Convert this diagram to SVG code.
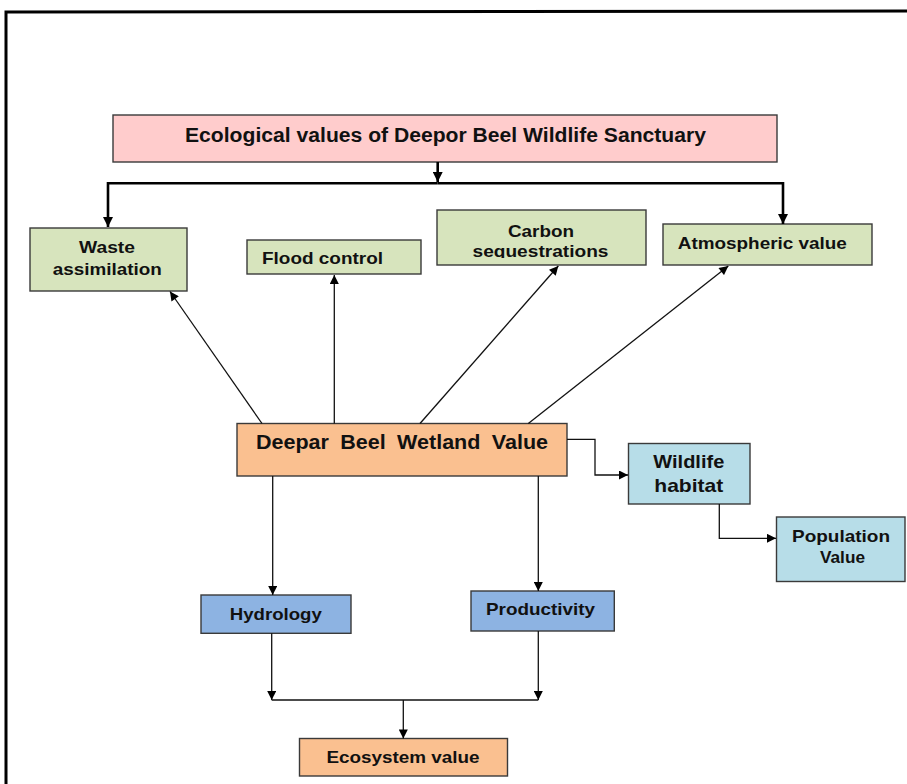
<svg xmlns="http://www.w3.org/2000/svg" width="907" height="784" viewBox="0 0 907 784">
<style>
.box{stroke:#3a3a3a;stroke-width:1.4}
.t{font-family:"Liberation Sans",Arial,sans-serif;font-weight:bold;fill:#111;text-anchor:middle}
.thick{stroke:#000;stroke-width:2.6;fill:none}
.thin{stroke:#111;stroke-width:1.3;fill:none}
</style>
<defs>
<marker id="ah" markerUnits="userSpaceOnUse" viewBox="0 0 10 10" refX="10" refY="5" markerWidth="11" markerHeight="10" orient="auto">
<path d="M0,0 L10,5 L0,10 Z" fill="#000"/>
</marker>
<marker id="as" markerUnits="userSpaceOnUse" viewBox="0 0 10 10" refX="10" refY="5" markerWidth="10" markerHeight="9" orient="auto">
<path d="M0,0 L10,5 L0,10 Z" fill="#000"/>
</marker>
<clipPath id="cseq"><rect x="437" y="210" width="209" height="48"/></clipPath>
</defs>
<rect width="907" height="784" fill="#fff"/>
<path d="M6,784 L6,12 L907,11" fill="none" stroke="#000" stroke-width="3"/>

<g id="title">
<rect class="box" x="113" y="115" width="664" height="47" fill="#FFCCCC"/>
<text class="t" x="445.5" y="142" font-size="20" textLength="521" lengthAdjust="spacingAndGlyphs">Ecological values of Deepor Beel Wildlife Sanctuary</text>
</g>
<g id="waste">
<rect class="box" x="30" y="228" width="157" height="63" fill="#D7E4BD"/>
<text class="t" x="107" y="253" font-size="16.5" textLength="56" lengthAdjust="spacingAndGlyphs">Waste</text>
<text class="t" x="107.3" y="275" font-size="16.5" textLength="109" lengthAdjust="spacingAndGlyphs">assimilation</text>
</g>
<g id="flood">
<rect class="box" x="247" y="240" width="174" height="34" fill="#D7E4BD"/>
<text class="t" x="322.5" y="264" font-size="17" textLength="121" lengthAdjust="spacingAndGlyphs">Flood control</text>
</g>
<g id="carbon">
<rect class="box" x="437" y="210" width="209" height="55" fill="#D7E4BD"/>
<text class="t" x="541" y="236.5" font-size="16.5" textLength="66" lengthAdjust="spacingAndGlyphs">Carbon</text>
<text class="t" x="540.5" y="256.7" font-size="16.5" textLength="136" lengthAdjust="spacingAndGlyphs" clip-path="url(#cseq)">sequestrations</text>
</g>
<g id="atmos">
<rect class="box" x="663" y="224" width="209" height="41" fill="#D7E4BD"/>
<text class="t" x="762.3" y="249" font-size="17" textLength="169" lengthAdjust="spacingAndGlyphs">Atmospheric value</text>
</g>
<g id="wetland">
<rect class="box" x="237" y="423.5" width="330" height="52.5" fill="#FAC090"/>
<text class="t" x="402" y="449.3" font-size="20" word-spacing="5" textLength="292" lengthAdjust="spacingAndGlyphs">Deepar Beel Wetland Value</text>
</g>
<g id="wildlife">
<rect class="box" x="628.5" y="443.5" width="121.5" height="60.5" fill="#B7DDE8"/>
<text class="t" x="688.8" y="468" font-size="18.5" textLength="71" lengthAdjust="spacingAndGlyphs">Wildlife</text>
<text class="t" x="688.8" y="491.7" font-size="18.5" textLength="69" lengthAdjust="spacingAndGlyphs">habitat</text>
</g>
<g id="population">
<rect class="box" x="776.5" y="517" width="128.5" height="64.5" fill="#B7DDE8"/>
<text class="t" x="841" y="541.7" font-size="16.5" textLength="98" lengthAdjust="spacingAndGlyphs">Population</text>
<text class="t" x="842.5" y="563" font-size="16.5" textLength="45" lengthAdjust="spacingAndGlyphs">Value</text>
</g>
<g id="hydrology">
<rect class="box" x="201" y="595" width="150" height="38.3" fill="#8DB3E2"/>
<text class="t" x="275.8" y="620" font-size="16.5" textLength="92" lengthAdjust="spacingAndGlyphs">Hydrology</text>
</g>
<g id="productivity">
<rect class="box" x="471" y="591" width="143.3" height="40" fill="#8DB3E2"/>
<text class="t" x="540.5" y="615" font-size="16.5" textLength="109" lengthAdjust="spacingAndGlyphs">Productivity</text>
</g>
<g id="ecosystem">
<rect class="box" x="299.5" y="738.5" width="208" height="37.5" fill="#FAC090"/>
<text class="t" x="403" y="763.3" font-size="17" textLength="153" lengthAdjust="spacingAndGlyphs">Ecosystem value</text>
</g>

<g id="connectors">
<path class="thick" d="M437.7,162 L437.7,182" marker-end="url(#ah)"/>
<path class="thick" d="M437.7,183.3 L108,183.3 L108,227" marker-end="url(#ah)"/>
<path class="thick" d="M437.7,183.3 L783,183.3 L783,224" marker-end="url(#ah)"/>
<path class="thin" d="M262,423.5 L170,291.5" marker-end="url(#as)"/>
<path class="thin" d="M334.3,423.5 L334.3,275" marker-end="url(#as)"/>
<path class="thin" d="M420,423.5 L558.3,266" marker-end="url(#as)"/>
<path class="thin" d="M528.3,423.5 L728.3,266" marker-end="url(#as)"/>
<path class="thin" d="M567,439.3 L595,439.3 L595,475 L628,475" marker-end="url(#as)"/>
<path class="thin" d="M719.3,504 L719.3,538.3 L776,538.3" marker-end="url(#as)"/>
<path class="thin" d="M272.7,476 L272.7,595" marker-end="url(#as)"/>
<path class="thin" d="M538.3,476 L538.3,591" marker-end="url(#as)"/>
<path class="thin" d="M271.7,633.3 L271.7,700" marker-end="url(#as)"/>
<path class="thin" d="M538.3,631 L538.3,700" marker-end="url(#as)"/>
<path class="thin" d="M271.7,700 L538.3,700"/>
<path class="thin" d="M403.3,700 L403.3,738.5" marker-end="url(#as)"/>
</g>
</svg>
